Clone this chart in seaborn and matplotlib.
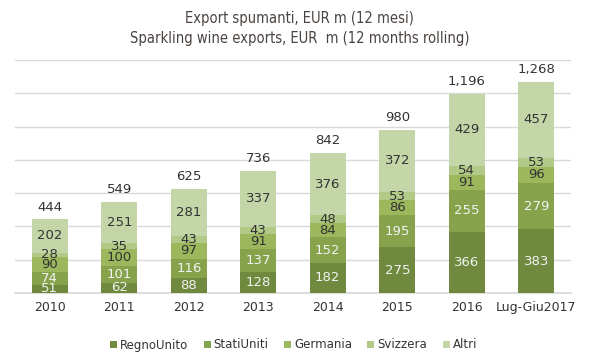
import numpy as np
import pandas as pd
import matplotlib
matplotlib.use("Agg")
import matplotlib.pyplot as plt
import seaborn as sns

years = ["2010", "2011", "2012", "2013", "2014", "2015", "2016", "Lug-Giu2017"]
regno_unito = [51, 62, 88, 128, 182, 275, 366, 383]
stati_uniti = [74, 101, 116, 137, 152, 195, 255, 279]
germania = [90, 100, 97, 91, 84, 86, 91, 96]
svizzera = [28, 35, 43, 43, 48, 53, 54, 53]
altri = [202, 251, 281, 337, 376, 372, 429, 457]
totals = [444, 549, 625, 736, 842, 980, 1196, 1268]

series = {
    "RegnoUnito": regno_unito,
    "StatiUniti": stati_uniti,
    "Germania": germania,
    "Svizzera": svizzera,
    "Altri": altri,
}
colors = ["#6F8A3E", "#86A24B", "#9CB75C", "#B2CA88", "#C4D5A8"]
label_colors = ["#F2F2F2", "#F2F2F2", "#333333", "#333333", "#333333"]

sns.set_theme(style="white")
plt.rcParams["font.family"] = ["DejaVu Sans"]

fig = plt.figure(figsize=(5.99, 3.63), dpi=100)
ax = fig.add_axes([15 / 599, 1 - 293 / 363, 556 / 599, 233 / 363])

n = len(series)
bottom = np.zeros(len(years))
for k, ((name, vals), col, lcol) in enumerate(zip(series.items(), colors, label_colors)):
    vals = np.array(vals, dtype=float)
    sns.barplot(x=years, y=vals + bottom, color=col, ax=ax, width=0.52,
                saturation=1, zorder=3 + n - k, label=name, linewidth=0)
    for i, v in enumerate(vals):
        ax.text(i, bottom[i] + v / 2, f"{int(v)}", ha="center", va="center",
                fontsize=9.5, color=lcol, zorder=20)
    bottom += vals

for i, t in enumerate(totals):
    ax.text(i, t + 72, f"{t:,}", ha="center", va="center", fontsize=9.5,
            color="#333333", zorder=20)

ax.set_ylim(0, 1400)
ax.set_xlim(-0.5, len(years) - 0.5)
ax.set_yticks(range(0, 1401, 200))
ax.yaxis.grid(True, color="#D9D9D9", linewidth=1, zorder=0)
ax.set_axisbelow(True)
ax.set_yticklabels([])
ax.tick_params(axis="y", length=0)
ax.tick_params(axis="x", length=0, labelsize=9, labelcolor="#333333", pad=6)
for s in ["top", "right", "left"]:
    ax.spines[s].set_visible(False)
ax.spines["bottom"].set_color("#D9D9D9")
ax.set_xlabel("")
ax.set_ylabel("")

handles, labels = ax.get_legend_handles_labels()
order = list(series)
hmap = dict(zip(labels, handles))
if ax.get_legend() is not None:
    ax.get_legend().remove()
fig.legend([hmap[n] for n in order], order, loc="center", ncol=5,
           bbox_to_anchor=(0.49, 1 - 345 / 363), frameon=False, fontsize=8.5,
           handlelength=0.6, handleheight=0.6, handletextpad=0.25,
           columnspacing=1.3, labelcolor="#333333")

fig.text(0.5, 1 - 18 / 363, "Export spumanti, EUR m (12 mesi)", ha="center",
         va="center", fontsize=10.5, color="#4A4440", fontstretch="condensed")
fig.text(0.5, 1 - 38 / 363, "Sparkling wine exports, EUR  m (12 months rolling)",
         ha="center", va="center", fontsize=10.5, color="#4A4440",
         fontstretch="condensed")

fig.savefig("out.png", dpi=100)
